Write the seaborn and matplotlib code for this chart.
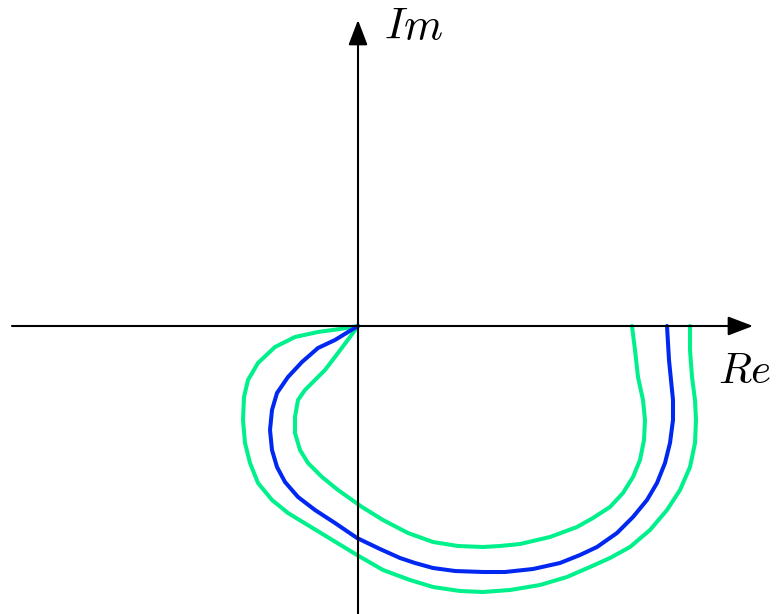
import matplotlib
matplotlib.use("Agg")
import matplotlib.pyplot as plt
import pandas as pd
import seaborn as sns

# Nyquist-style loci (Re, Im), traced from the open end on the real axis
# around to the origin.
blue_re = [3.09, 3.11, 3.13, 3.15, 3.15, 3.12, 3.07, 2.99, 2.89, 2.75, 2.59,
           2.39, 2.22, 2.02, 1.75, 1.47, 1.25, 0.97, 0.75, 0.57, 0.42, 0.22,
           -0.01, -0.23, -0.43, -0.60, -0.73, -0.81, -0.86, -0.88, -0.86,
           -0.81, -0.70, -0.56, -0.40, -0.23, -0.10, 0.00]
blue_im = [0.00, -0.34, -0.54, -0.74, -0.94, -1.17, -1.37, -1.57, -1.74,
           -1.91, -2.07, -2.21, -2.29, -2.37, -2.43, -2.46, -2.46, -2.45,
           -2.42, -2.37, -2.32, -2.23, -2.12, -1.97, -1.84, -1.71, -1.56,
           -1.41, -1.24, -1.04, -0.84, -0.67, -0.51, -0.36, -0.22, -0.14,
           -0.06, 0.00]

outer_re = [3.32, 3.32, 3.34, 3.37, 3.38, 3.37, 3.32, 3.22, 3.09, 2.92, 2.72,
            2.52, 2.32, 2.09, 1.82, 1.52, 1.25, 1.02, 0.75, 0.52, 0.25, -0.01,
            -0.24, -0.47, -0.70, -0.86, -1.00, -1.08, -1.13, -1.15, -1.14,
            -1.10, -1.00, -0.83, -0.63, -0.40, -0.18, 0.00]
outer_im = [0.00, -0.24, -0.51, -0.74, -0.94, -1.17, -1.41, -1.64, -1.84,
            -2.04, -2.21, -2.32, -2.41, -2.51, -2.59, -2.64, -2.66, -2.65,
            -2.61, -2.54, -2.44, -2.29, -2.15, -2.01, -1.87, -1.74, -1.57,
            -1.37, -1.17, -0.94, -0.71, -0.54, -0.37, -0.21, -0.11, -0.06,
            -0.03, 0.00]

inner_re = [2.74, 2.77, 2.80, 2.85, 2.87, 2.86, 2.82, 2.75, 2.65, 2.52, 2.35,
            2.19, 1.92, 1.62, 1.42, 1.25, 1.00, 0.75, 0.50, 0.25, 0.04, -0.20,
            -0.36, -0.50, -0.58, -0.63, -0.63, -0.60, -0.53, -0.43, -0.33,
            -0.20, -0.08, 0.00]
inner_im = [0.00, -0.24, -0.51, -0.74, -0.94, -1.14, -1.34, -1.51, -1.67,
            -1.81, -1.92, -2.01, -2.11, -2.18, -2.20, -2.21, -2.20, -2.16,
            -2.07, -1.94, -1.81, -1.64, -1.51, -1.37, -1.24, -1.07, -0.91,
            -0.74, -0.64, -0.54, -0.44, -0.27, -0.11, 0.00]

curves = {
    "outer": (outer_re, outer_im, "#00F08C"),
    "inner": (inner_re, inner_im, "#00F08C"),
    "nominal": (blue_re, blue_im, "#0028F0"),
}

sns.set_theme(style="white")
plt.rcParams["mathtext.fontset"] = "cm"

fig = plt.figure(figsize=(7.76, 6.14), dpi=100)
ax = fig.add_axes([0, 0, 1, 1])
ax.set_xlim(-3.58, 4.18)
ax.set_ylim(-2.88, 3.26)
ax.set_axis_off()

# coordinate axes with arrow heads
arrow_kw = dict(arrowstyle="-|>,head_length=1.1,head_width=0.42",
                mutation_scale=14, lw=1.5, color="black",
                shrinkA=0, shrinkB=0)
ax.annotate("", xy=(3.95, 0), xytext=(-3.46, 0), arrowprops=arrow_kw)
ax.annotate("", xy=(0, 3.06), xytext=(0, -3.0), arrowprops=arrow_kw)

for name, (re, im, color) in curves.items():
    df = pd.DataFrame({"Re": re, "Im": im})
    sns.lineplot(data=df, x="Re", y="Im", sort=False, estimator=None,
                 color=color, lw=2.9, ax=ax, legend=False,
                 solid_capstyle="round", solid_joinstyle="round")

ax.text(0.26, 2.87, r"$Im$", fontsize=32, color="black",
        ha="left", va="baseline")
ax.text(3.60, -0.57, r"$Re$", fontsize=31, color="black",
        ha="left", va="baseline")

fig.savefig("out.png", dpi=100)
